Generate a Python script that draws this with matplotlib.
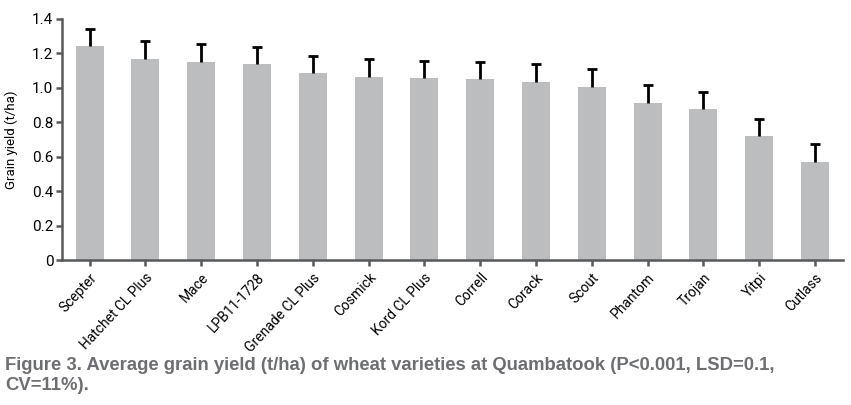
import matplotlib
matplotlib.use("Agg")
import matplotlib.pyplot as plt
import numpy as np

# ========== data ==========
varieties = ["Scepter", "Hatchet CL Plus", "Mace", "LPB11-1728", "Grenade CL Plus",
             "Cosmick", "Kord CL Plus", "Correll", "Corack", "Scout", "Phantom",
             "Trojan", "Yitpi", "Cutlass"]
yield_tha = [1.24, 1.165, 1.148, 1.137, 1.085, 1.062, 1.056, 1.05, 1.032, 1.004,
             0.91, 0.876, 0.72, 0.57]
err = [0.10, 0.105, 0.105, 0.10, 0.10, 0.105, 0.10, 0.10, 0.105, 0.104,
       0.105, 0.10, 0.10, 0.10]
yticks = [0, 0.2, 0.4, 0.6, 0.8, 1.0, 1.2, 1.4]
ytick_labels = ["0", "0.2", "0.4", "0.6", "0.8", "1.0", "1.2", "1.4"]

plt.rcParams["font.family"] = ["Roboto", "DejaVu Sans"]

fig = plt.figure(figsize=(8.51, 4.05), dpi=100)
ax = fig.add_axes([0.0725, 0.358, 0.918, 0.596])

x = np.arange(len(varieties))
ax.bar(x, yield_tha, width=0.5, color="#bcbdbf", zorder=2)
_, caps, _ = ax.errorbar(x, yield_tha, yerr=[np.zeros(len(err)), err], fmt="none",
                         ecolor="black", elinewidth=2, capsize=3.5, capthick=2, zorder=3)
caps[0].remove()  # only the upper cap, like the original

ax.set_xlim(-0.5, 13.5)
ax.set_ylim(0, 1.4)
ax.set_yticks(yticks)
ax.set_yticklabels(ytick_labels, fontsize=11)
ax.set_xticks(x)
ax.set_xticklabels(varieties, rotation=47, ha="right", rotation_mode="anchor",
                   fontsize=10)
ax.set_ylabel("Grain yield (t/ha)", fontsize=9.5)
ax.yaxis.set_label_coords(-0.056, 0.5)

for s in ["top", "right"]:
    ax.spines[s].set_visible(False)
for s in ["left", "bottom"]:
    ax.spines[s].set_color("#58595b")
    ax.spines[s].set_linewidth(1.8)
ax.tick_params(axis="both", direction="out", length=4, width=1.8, color="#58595b")
ax.tick_params(axis="y", pad=2)

fig.text(0.006, 0.073, "Figure 3. Average grain yield (t/ha) of wheat varieties at Quambatook (P<0.001, LSD=0.1,\nCV=11%).",
         fontsize=13.3, fontweight="bold", color="#6d6e71", va="center", linespacing=1.25,
         family=["Liberation Sans", "DejaVu Sans"])

fig.savefig("out.png", dpi=100)
